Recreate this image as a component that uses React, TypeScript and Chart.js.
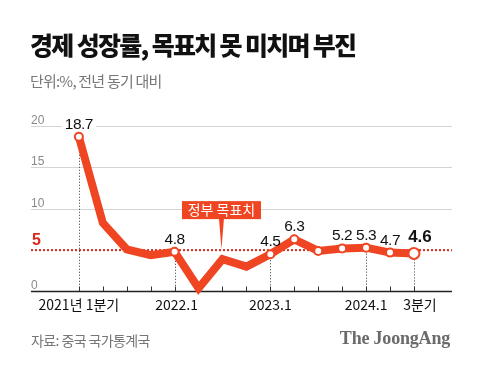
import React, { useEffect, useRef } from "react";
import { Chart, registerables } from "chart.js";

Chart.register(...registerables);

const categories = [
  "2021.1", "2021.2", "2021.3", "2021.4",
  "2022.1", "2022.2", "2022.3", "2022.4",
  "2023.1", "2023.2", "2023.3", "2023.4",
  "2024.1", "2024.2", "2024.3",
];
const growth = [18.7, 8.3, 5.1, 4.4, 4.8, 0.4, 3.9, 3.0, 4.5, 6.3, 4.9, 5.2, 5.3, 4.7, 4.6];
const markerIdx = [0, 4, 8, 9, 10, 11, 12, 13, 14];
const valueLabelIdx = [0, 4, 8, 9, 11, 12, 13, 14];
const tickIdx = [0, 4, 8, 12, 14];
const tickText = ["2021년 1분기", "2022.1", "2023.1", "2024.1", "3분기"];
const yGridValues = [20, 15, 10];
const targetValue = 5;
const targetLabel = "정부 목표치";
const annotationIdx = 6;

const LINE = "#ef4522";
const RED = "#d6281c";

const overlay = {
  id: "overlay",
  beforeDatasetsDraw(chart: any) {
    const { ctx, chartArea, scales } = chart;
    const { left, right } = chartArea;
    const x = scales.x;
    const y = scales.y;
    const y0 = y.getPixelForValue(0);
    ctx.save();
    ctx.strokeStyle = "#d4d4d4";
    ctx.lineWidth = 1;
    ctx.font = '12px "Liberation Sans"';
    ctx.textAlign = "left";
    ctx.textBaseline = "alphabetic";
    yGridValues.forEach((v) => {
      const py = Math.round(y.getPixelForValue(v)) + 0.5;
      ctx.beginPath();
      ctx.moveTo(left, py);
      ctx.lineTo(right, py);
      ctx.stroke();
      ctx.fillStyle = "#8a8a8a";
      ctx.fillText(String(v), left, py - 2.5);
    });
    ctx.fillStyle = "#8a8a8a";
    ctx.fillText("0", left, y0 - 3);
    const yt = y.getPixelForValue(targetValue);
    ctx.strokeStyle = RED;
    ctx.lineWidth = 2;
    ctx.setLineDash([2, 2]);
    ctx.beginPath();
    ctx.moveTo(left, yt);
    ctx.lineTo(right, yt);
    ctx.stroke();
    ctx.setLineDash([]);
    ctx.fillStyle = RED;
    ctx.font = 'bold 16px "Liberation Sans"';
    ctx.fillText(String(targetValue), left + 1, yt - 5);
    ctx.strokeStyle = "#333";
    ctx.lineWidth = 1;
    ctx.setLineDash([1, 2]);
    tickIdx.forEach((i) => {
      const px = Math.round(x.getPixelForValue(i)) + 0.5;
      ctx.beginPath();
      ctx.moveTo(px, y.getPixelForValue(growth[i]));
      ctx.lineTo(px, y0);
      ctx.stroke();
    });
    ctx.setLineDash([]);
    ctx.strokeStyle = "#333";
    ctx.lineWidth = 1;
    categories.forEach((_, i) => {
      const px = Math.round(x.getPixelForValue(i)) + 0.5;
      ctx.beginPath();
      ctx.moveTo(px, y0 - 5);
      ctx.lineTo(px, y0);
      ctx.stroke();
    });
    ctx.strokeStyle = "#222";
    ctx.lineWidth = 1.5;
    ctx.beginPath();
    ctx.moveTo(left, y0);
    ctx.lineTo(right, y0);
    ctx.stroke();
    ctx.fillStyle = "#111";
    ctx.font = '14px "Noto Sans CJK KR"';
    ctx.textAlign = "center";
    tickIdx.forEach((i, k) => {
      const dx = k === tickIdx.length - 1 ? 6 : k === 1 ? 2 : 0;
      ctx.fillText(tickText[k], x.getPixelForValue(i) + dx, y0 + 18);
    });
    const ax = x.getPixelForValue(annotationIdx) - 1;
    const tipY = yt - 1;
    const boxBottom = tipY - 30;
    const boxH = 18;
    const boxW = 79;
    ctx.fillStyle = LINE;
    ctx.fillRect(ax - boxW / 2, boxBottom - boxH, boxW, boxH);
    ctx.beginPath();
    ctx.moveTo(ax - 2.5, boxBottom - 1);
    ctx.lineTo(ax + 2.5, boxBottom - 1);
    ctx.lineTo(ax, tipY);
    ctx.closePath();
    ctx.fill();
    ctx.fillStyle = "#fff";
    ctx.font = '14px "Noto Sans CJK KR"';
    ctx.textAlign = "center";
    ctx.fillText(targetLabel, ax, boxBottom - 4);
    ctx.restore();
  },
  afterDatasetsDraw(chart: any) {
    const { ctx, scales } = chart;
    const x = scales.x;
    const y = scales.y;
    ctx.save();
    ctx.textAlign = "center";
    ctx.textBaseline = "alphabetic";
    valueLabelIdx.forEach((i) => {
      const last = i === growth.length - 1;
      ctx.font = last ? 'bold 17px "Liberation Sans"' : '15.5px "Liberation Sans"';
      (ctx as any).letterSpacing = last ? "0px" : "-0.5px";
      const px = x.getPixelForValue(i) + (last ? 6 : 0);
      const py = y.getPixelForValue(growth[i]) - (last ? 11 : 8);
      const txt = growth[i].toFixed(1);
      const w = ctx.measureText(txt).width;
      if (i === 0) {
        ctx.fillStyle = "#fff";
        ctx.fillRect(px - w / 2 - 3, py - 13, w + 6, 15);
      }
      ctx.fillStyle = "#111";
      ctx.fillText(txt, px, py);
    });
    (ctx as any).letterSpacing = "0px";
    ctx.restore();
  },
};

export default function App() {
  const ref = useRef<HTMLCanvasElement>(null);
  useEffect(() => {
    if (!ref.current) return;
    const chart = new Chart(ref.current, {
      type: "line",
      data: {
        datasets: [
          {
            data: growth.map((v, i) => ({ x: i, y: v })),
            borderColor: LINE,
            borderWidth: 8,
            borderJoinStyle: "miter",
            tension: 0,
            clip: false as any,
            pointRadius: (c: any) =>
              markerIdx.includes(c.dataIndex) ? (c.dataIndex === growth.length - 1 ? 5.5 : 4) : 0,
            pointBackgroundColor: "#fff",
            pointBorderColor: LINE,
            pointBorderWidth: 2,
          } as any,
        ],
      },
      options: {
        animation: false,
        responsive: false,
        devicePixelRatio: 1,
        layout: { padding: { left: 31, right: 28, top: 126, bottom: 77.5 } },
        scales: {
          x: { type: "linear", min: -2, max: 15.59, display: false },
          y: { min: 0, max: 20, display: false },
        },
        plugins: { legend: { display: false }, tooltip: { enabled: false } },
        events: [],
      },
      plugins: [overlay],
    });
    return () => chart.destroy();
  }, []);

  return (
    <div style={{ position: "absolute", left: 0, top: 0, width: 480, height: 369, background: "#fff", overflow: "hidden" }}>
      <canvas ref={ref} width={480} height={369} style={{ position: "absolute", left: 0, top: 0, width: 480, height: 369 }} />
      <div style={{ position: "absolute", left: 30, top: 32, fontFamily: '"Noto Sans CJK KR"', fontWeight: 900, fontSize: 25, lineHeight: 1, letterSpacing: -1.7, color: "#111", whiteSpace: "nowrap" }}>
        경제 성장률, 목표치 못 미치며 부진
      </div>
      <div style={{ position: "absolute", left: 30, top: 73, fontFamily: '"Noto Sans CJK KR"', fontSize: 15, lineHeight: 1, letterSpacing: -0.8, color: "#777", whiteSpace: "nowrap" }}>
        단위:%, 전년 동기 대비
      </div>
      <div style={{ position: "absolute", left: 31, top: 333, fontFamily: '"Noto Sans CJK KR"', fontSize: 14, lineHeight: 1, letterSpacing: -0.6, color: "#777", whiteSpace: "nowrap" }}>
        자료: 중국 국가통계국
      </div>
      <div style={{ position: "absolute", right: 30, top: 329, fontFamily: '"Liberation Serif", serif', fontWeight: 700, fontSize: 18, lineHeight: 1, letterSpacing: -0.2, color: "#6a6a6a", whiteSpace: "nowrap" }}>
        The JoongAng
      </div>
    </div>
  );
}
